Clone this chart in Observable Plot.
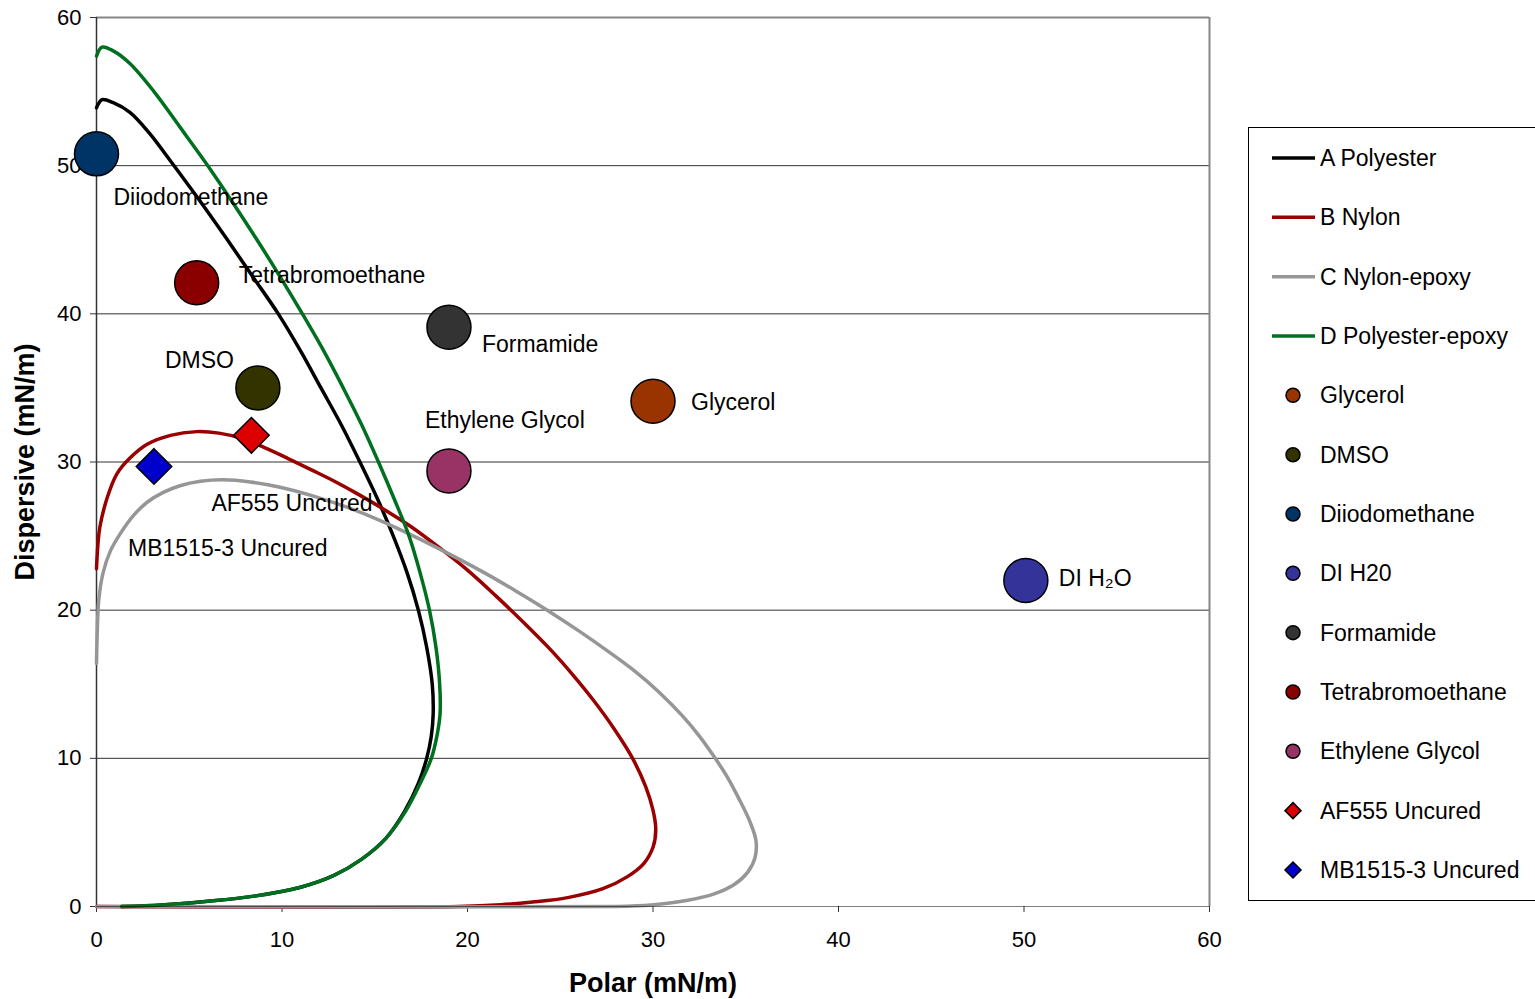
<!DOCTYPE html>
<html>
<head>
<meta charset="utf-8">
<script src="https://cdn.jsdelivr.net/npm/d3@7"></script>
<script src="https://cdn.jsdelivr.net/npm/@observablehq/plot@0.6"></script>
<style>
  html, body { margin: 0; padding: 0; background: #fff; }
  #chart { width: 1535px; height: 999px; }
</style>
</head>
<body>
<div id="chart"></div>
<script>
// ---------- data ----------
const xTicks = [0, 10, 20, 30, 40, 50, 60];
const yTicks = [0, 10, 20, 30, 40, 50, 60];

// wetting envelopes, [polar, dispersive]
const envelopeNames = ["A Polyester", "B Nylon", "C Nylon-epoxy", "D Polyester-epoxy"];
const polyesterA = [[0,53.9],[0.3,54.45],[0.9,54.25],[1.8,53.6],[2.85,52.2],[4.0,50.3],[5.5,47.75],[7.0,45.1],[8.4,42.55],[9.8,40.0],[11.0,37.5],[12.1,35.0],[13.2,32.5],[14.2,30.0],[15.15,27.5],[16.0,25.0],[16.75,22.5],[17.35,20.0],[17.8,17.5],[18.1,15.0],[18.15,13.0],[18.05,11.5],[17.8,10.0],[17.35,8.3],[16.6,6.4],[15.6,4.6],[14.3,3.2],[12.8,2.1],[11.0,1.3],[8.5,0.7],[6.0,0.35],[3.5,0.1],[1.35,0]];
const nylonB = [[0,22.8],[0.08,24.5],[0.18,25.6],[0.58,27.6],[1.1,29.2],[1.83,30.3],[2.73,31.2],[3.99,31.8],[5.4,32.05],[6.6,31.95],[7.8,31.6],[9.0,31.0],[10.3,30.25],[11.7,29.4],[12.9,28.65],[14.0,27.9],[15.5,26.8],[17.0,25.6],[18.5,24.2],[20.0,22.7],[21.5,21.0],[23.0,19.2],[24.5,17.3],[25.7,15.6],[26.8,13.9],[27.9,12.0],[28.9,10.0],[29.6,8.1],[30.0,6.5],[30.15,5.2],[30.0,4.0],[29.5,2.9],[28.6,2.0],[27.3,1.2],[25.4,0.6],[23.5,0.3],[21.8,0.12],[19.5,0],[0,0]];
const nylonEpoxyC = [[0,16.4],[0.04,18.5],[0.12,20.65],[0.35,22.5],[0.75,24.0],[1.3,25.2],[2.0,26.4],[2.75,27.3],[3.6,27.95],[4.5,28.4],[5.6,28.7],[6.85,28.8],[8.3,28.65],[9.9,28.3],[11.7,27.7],[13.5,26.95],[15.3,26.05],[17.1,25.0],[19.0,23.8],[20.8,22.6],[22.6,21.3],[24.3,20.0],[26.0,18.6],[27.6,17.2],[29.0,15.9],[30.3,14.5],[31.6,12.85],[32.5,11.5],[33.3,10.1],[34.0,8.75],[34.6,7.35],[35.2,5.8],[35.55,4.45],[35.5,3.3],[35.1,2.3],[34.4,1.5],[33.3,0.85],[31.8,0.4],[29.9,0.1],[28.0,0],[0,0]];
const polyesterEpoxyD = [[0,57.4],[0.3,58.0],[0.9,57.75],[1.8,56.9],[3.1,55.0],[4.5,52.6],[6.0,50.0],[7.35,47.5],[8.65,45.0],[9.9,42.5],[11.1,40.0],[12.25,37.5],[13.3,35.0],[14.3,32.5],[15.2,30.0],[16.05,27.5],[16.85,25.0],[17.45,22.5],[17.95,20.0],[18.3,17.5],[18.5,15.0],[18.52,13.0],[18.35,11.5],[18.05,10.0],[17.45,8.3],[16.65,6.4],[15.6,4.6],[14.3,3.2],[12.8,2.1],[11.0,1.3],[8.5,0.7],[6.0,0.35],[3.5,0.1],[1.35,0]];

// test liquids
const liquids = ["Glycerol", "DMSO", "Diiodomethane", "DI H20", "Formamide", "Tetrabromoethane", "Ethylene Glycol"];
const liquidLabels = ["Glycerol", "DMSO", "Diiodomethane", "DI H\u2082O", "Formamide", "Tetrabromoethane", "Ethylene Glycol"];
const liquidPolar = [30.0, 8.7, 0.0, 50.1, 19.0, 5.4, 19.0];
const liquidDispersive = [34.1, 35.0, 50.8, 22.0, 39.1, 42.1, 29.4];

// coatings (uncured samples)
const samples = ["AF555 Uncured", "MB1515-3 Uncured"];
const samplePolar = [8.35, 3.1];
const sampleDispersive = [31.8, 29.7];

// ---------- styles ----------
const lineColors = ["#000000", "#990000", "#969696", "#007020"];
const liquidColors = ["#993300", "#333300", "#003366", "#333399", "#333333", "#8a0000", "#993366"];
const sampleColors = ["#dd0000", "#0000cc"];
// label offsets in px (dx, dy) from the marker centre
const liquidLabelOffsets = [[38,1],[-93,-27],[17,44],[33,-2],[33,17],[42,-7],[-24,-50]];
const sampleLabelOffsets = [[-40,68],[-26,82]];

const FONT = "'Liberation Sans', Arial, Helvetica, sans-serif";

const curves = [polyesterA, nylonB, nylonEpoxyC, polyesterEpoxyD];
const liquidRows = liquids.map((n, i) => ({name: n, label: liquidLabels[i], x: liquidPolar[i], y: liquidDispersive[i], color: liquidColors[i]}));
const sampleRows = samples.map((n, i) => ({name: n, label: n, x: samplePolar[i], y: sampleDispersive[i], color: sampleColors[i]}));

const marks = [
  Plot.gridY(yTicks.filter(d => d > 0 && d < 60), {stroke: "#333", strokeOpacity: 1, strokeWidth: 1}),
  Plot.ruleY([60], {stroke: "#868686", strokeWidth: 2}),
  Plot.ruleX([60], {stroke: "#868686", strokeWidth: 2}),
  Plot.ruleX([0], {stroke: "#333", strokeWidth: 1.5}),
  Plot.axisX({ticks: xTicks, tickSize: 6, tickPadding: 19, fontSize: 22, label: null, stroke: "#333"}),
  Plot.axisY({ticks: yTicks, tickSize: 6, tickPadding: 9, fontSize: 22, label: null, stroke: "#333"}),
];
curves.forEach((c, i) => {
  marks.push(Plot.line(c, {x: d => d[0], y: d => d[1], stroke: lineColors[i], strokeWidth: 3.5, curve: "catmull-rom"}));
});
marks.push(Plot.ruleY([0], {stroke: "#000", strokeWidth: 1, strokeOpacity: 0.5}));
marks.push(Plot.dot(liquidRows, {x: "x", y: "y", r: 22, fill: d => d.color, stroke: "#000", strokeWidth: 1.5}));
marks.push(Plot.dot(sampleRows, {x: "x", y: "y", r: 16, symbol: "diamond2", fill: d => d.color, stroke: "#000", strokeWidth: 1.5}));
liquidRows.forEach((d, i) => {
  marks.push(Plot.text([d], {x: "x", y: "y", text: "label", dx: liquidLabelOffsets[i][0], dy: liquidLabelOffsets[i][1], textAnchor: "start", fontSize: 23, fill: "#000"}));
});
sampleRows.forEach((d, i) => {
  marks.push(Plot.text([d], {x: "x", y: "y", text: "label", dx: sampleLabelOffsets[i][0], dy: sampleLabelOffsets[i][1], textAnchor: "start", fontSize: 23, fill: "#000"}));
});
marks.push(Plot.text(["Polar (mN/m)"], {frameAnchor: "bottom", dy: 85, fontWeight: "bold", fontSize: 27, fill: "#000"}));
marks.push(Plot.text(["Dispersive (mN/m)"], {frameAnchor: "left", dx: -71, rotate: -90, textAnchor: "middle", fontWeight: "bold", fontSize: 27, fill: "#000"}));

const chart = Plot.plot({
  width: 1535,
  height: 999,
  marginLeft: 96,
  marginRight: 326,
  marginTop: 17,
  marginBottom: 93,
  x: {domain: [0, 60]},
  y: {domain: [0, 60]},
  style: {fontFamily: FONT, fontSize: "22px", background: "#fff", color: "#000", overflow: "visible"},
  marks
});
document.getElementById("chart").appendChild(chart);

// ---------- legend (drawn into the same svg) ----------
const svg = d3.select(chart);
const lg = svg.append("g").attr("font-family", FONT).attr("font-size", 23).attr("text-anchor", "start");
lg.append("rect").attr("x", 1248.5).attr("y", 127.5).attr("width", 300).attr("height", 773)
  .attr("fill", "#fff").attr("stroke", "#000").attr("stroke-width", 1);
const legendItems = [
  ...envelopeNames.map((n, i) => ({type: "line", name: n, color: lineColors[i]})),
  ...liquids.map((n, i) => ({type: "circle", name: n, color: liquidColors[i]})),
  ...samples.map((n, i) => ({type: "diamond", name: n, color: sampleColors[i]}))
];
const y0 = 158, step = 59.33;
legendItems.forEach((it, i) => {
  const y = y0 + i * step;
  if (it.type === "line") {
    lg.append("line").attr("x1", 1272).attr("x2", 1315).attr("y1", y).attr("y2", y)
      .attr("stroke", it.color).attr("stroke-width", 3.5);
  } else if (it.type === "circle") {
    lg.append("circle").attr("cx", 1293).attr("cy", y).attr("r", 7)
      .attr("fill", it.color).attr("stroke", "#000").attr("stroke-width", 1.5);
  } else {
    lg.append("path").attr("d", `M1293,${y-8}L1301,${y}L1293,${y+8}L1285,${y}Z`)
      .attr("fill", it.color).attr("stroke", "#000").attr("stroke-width", 1.5);
  }
  lg.append("text").attr("x", 1320).attr("y", y).attr("dy", "0.35em").attr("text-anchor", "start").attr("fill", "#000").text(it.name);
});
</script>
</body>
</html>
